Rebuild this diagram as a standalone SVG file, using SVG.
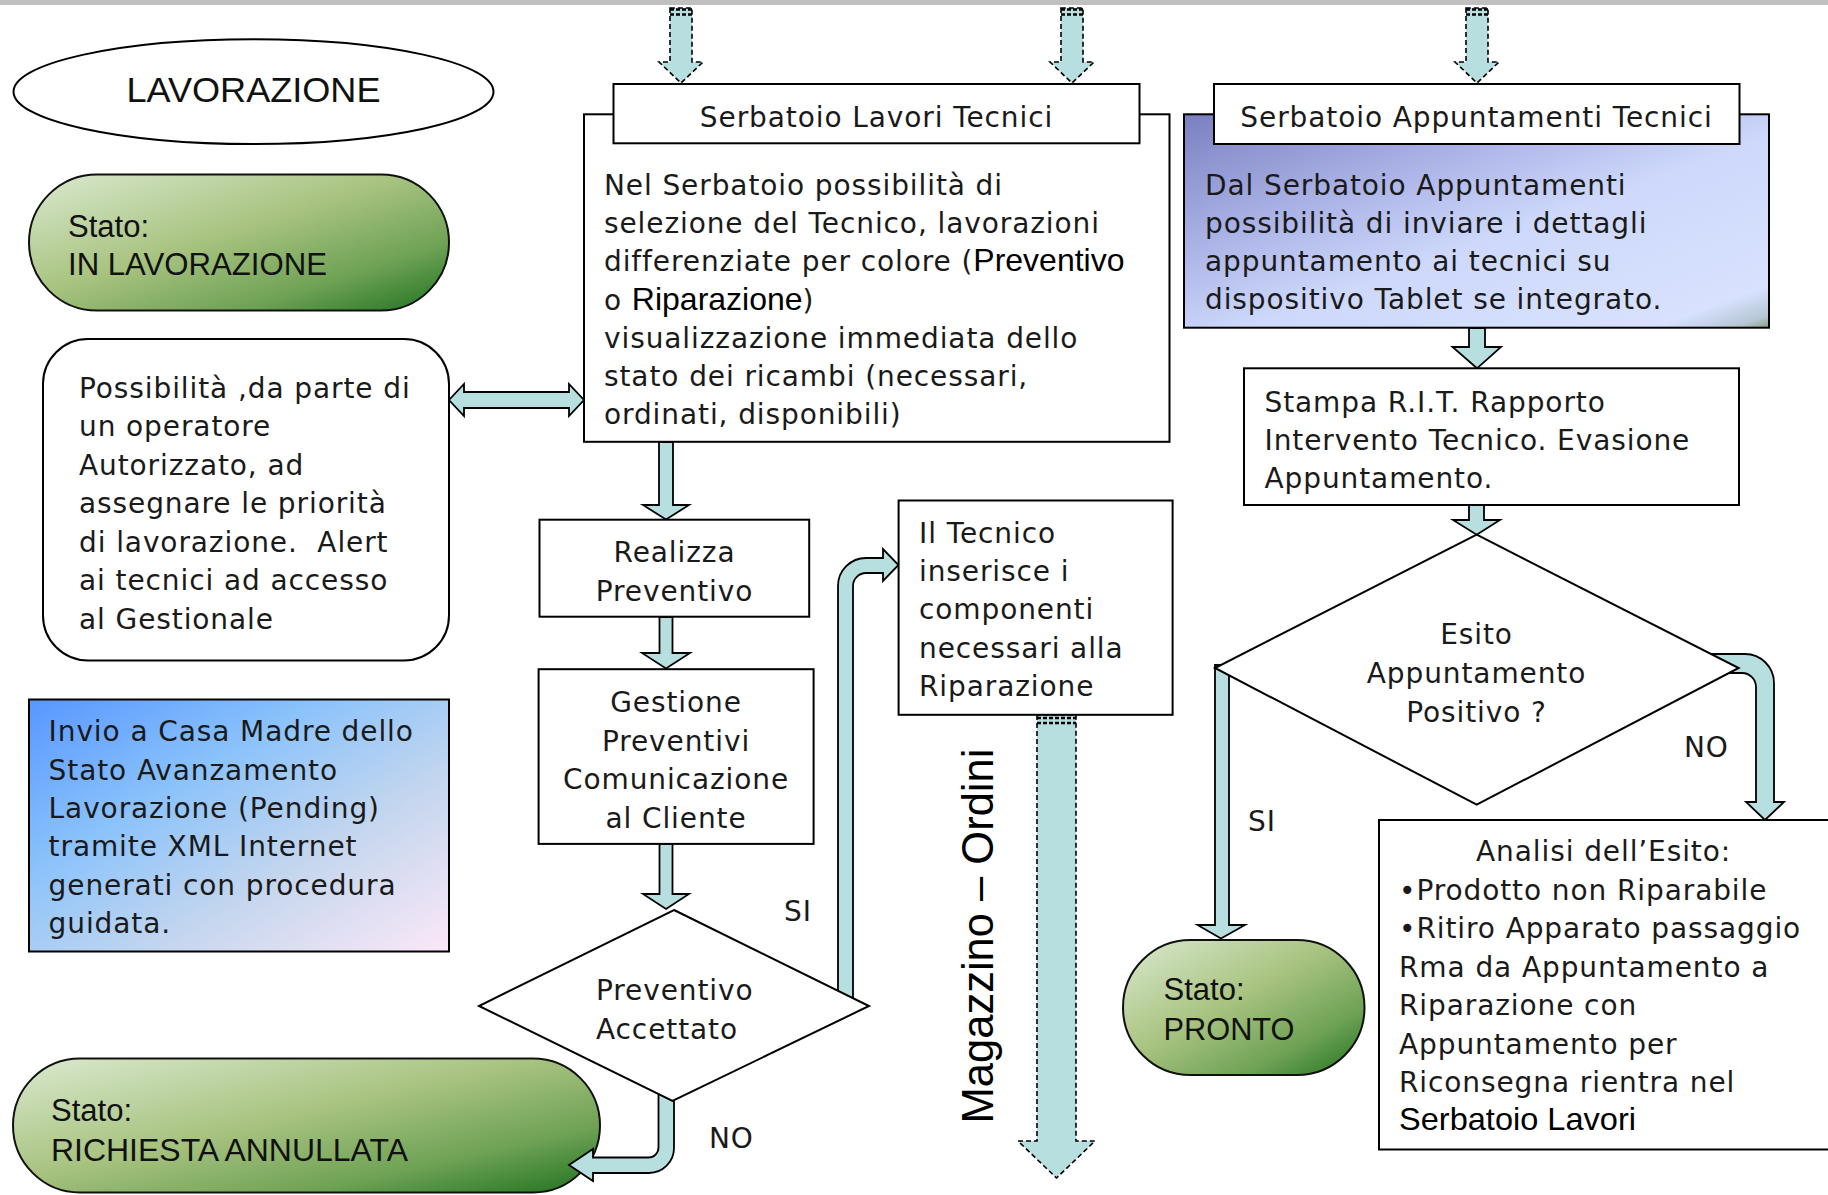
<svg xmlns="http://www.w3.org/2000/svg" width="1828" height="1195" viewBox="0 0 1828 1195">
<defs>
<style>
.g{font-family:"DejaVu Sans","Noto Sans CJK KR",sans-serif;font-size:28px;letter-spacing:0.9px;fill:#1a1a1a}
.a{font-family:"Liberation Sans",Arial,sans-serif;font-size:31px;fill:#111}
.ab{font-family:"Liberation Sans",Arial,sans-serif;font-size:32px;letter-spacing:0;fill:#000}
.box{fill:#fff;stroke:#000;stroke-width:2}
.conn{fill:#b7dfe0;stroke:#000;stroke-width:1.8;stroke-linejoin:miter}
.dash{fill:#b7dfe0;stroke:#000;stroke-width:1.6;stroke-dasharray:5 3}
.dtop{stroke:#000;stroke-width:2.5;stroke-dasharray:4 2;fill:none}
.pill{stroke:#111;stroke-width:2;fill:url(#green)}
.mid{text-anchor:middle}
</style>
<linearGradient id="green" x1="0" y1="0" x2="1" y2="1">
<stop offset="0" stop-color="#dbe9d0"/>
<stop offset="0.45" stop-color="#a8c380"/>
<stop offset="0.75" stop-color="#6fa255"/>
<stop offset="1" stop-color="#1f721f"/>
</linearGradient>
<linearGradient id="blue" x1="0" y1="0" x2="1" y2="1">
<stop offset="0" stop-color="#5797ff"/>
<stop offset="0.35" stop-color="#8cc3fb"/>
<stop offset="0.65" stop-color="#c4d6ee"/>
<stop offset="1" stop-color="#fbe8f8"/>
</linearGradient>
<linearGradient id="violet" x1="0" y1="0" x2="1" y2="1">
<stop offset="0" stop-color="#7a80c0"/>
<stop offset="0.3" stop-color="#a8b0e4"/>
<stop offset="0.55" stop-color="#cdd8fb"/>
<stop offset="0.9" stop-color="#d8e2fe"/>
<stop offset="0.97" stop-color="#b6c6d6"/>
<stop offset="1" stop-color="#86a07c"/>
</linearGradient>
</defs>
<rect x="0" y="0" width="1828" height="5" fill="#c0c0c0"/>

<g id="lavorazione">
<ellipse cx="253.5" cy="91.7" rx="240" ry="52.4" fill="#fff" stroke="#000" stroke-width="2"/>
<text class="a mid" x="253.5" y="102" style="font-size:35px" textLength="254" lengthAdjust="spacingAndGlyphs">LAVORAZIONE</text>
</g>

<g id="stato-in-lavorazione">
<rect class="pill" x="29" y="174.5" width="420" height="136" rx="68" ry="68"/>
<text class="a" x="68" y="237">Stato:</text>
<text class="a" x="68" y="275" textLength="259" lengthAdjust="spacingAndGlyphs">IN LAVORAZIONE</text>
</g>

<g id="stato-richiesta-annullata">
<rect class="pill" x="13" y="1058.5" width="587" height="134" rx="67" ry="67"/>
<text class="a" x="51" y="1121">Stato:</text>
<text class="a" x="51" y="1161" textLength="357" lengthAdjust="spacingAndGlyphs">RICHIESTA ANNULLATA</text>
</g>

<g id="stato-pronto">
<rect class="pill" x="1123" y="940" width="241.5" height="135" rx="67.5" ry="67.5"/>
<text class="a" x="1163.5" y="1000">Stato:</text>
<text class="a" x="1163.5" y="1040" textLength="131" lengthAdjust="spacingAndGlyphs">PRONTO</text>
</g>

<g id="connectors">
<path class="dash" d="M670,8 V62 H659 L681,83 L703,62 H692 V8 Z"/>
<line class="dtop" x1="670" y1="9.5" x2="692" y2="9.5"/><line class="dtop" x1="670" y1="14.5" x2="692" y2="14.5"/>
<path class="dash" d="M1061,8 V62 H1050 L1072,83 L1094,62 H1083 V8 Z"/>
<line class="dtop" x1="1061" y1="9.5" x2="1083" y2="9.5"/><line class="dtop" x1="1061" y1="14.5" x2="1083" y2="14.5"/>
<path class="dash" d="M1466,8 V62 H1455 L1477,83 L1499,62 H1488 V8 Z"/>
<line class="dtop" x1="1466" y1="9.5" x2="1488" y2="9.5"/><line class="dtop" x1="1466" y1="14.5" x2="1488" y2="14.5"/>
<path class="dash" d="M1037,715 V1141 H1018 L1056.5,1178 L1095,1141 H1076 V715 Z"/>
<line class="dtop" x1="1037" y1="718" x2="1076" y2="718"/><line class="dtop" x1="1037" y1="723" x2="1076" y2="723"/>
<path class="conn" d="M449,400 L464,384 V392 H569 V384 L584,400 L569,416 V408 H464 V416 Z"/>
<path class="conn" d="M659,442 V505 H643 L666,519.5 L689,505 H673 V442 Z"/>
<path class="conn" d="M659.5,617 V653 H642 L666,668.5 L690,653 H672.5 V617 Z"/>
<path class="conn" d="M659.5,844 V894 H643 L666,909 L689,894 H672.5 V844 Z"/>
<path class="conn" d="M1469,328 V347 H1452.5 L1477,368.3 L1501,347 H1485 V328 Z"/>
<path class="conn" d="M1469,505 V520 H1453 L1476.7,534.7 L1500,520 H1484 V505 Z"/>
<path class="conn" d="M1215,665 V925 H1197.5 L1221,938.5 L1245,925 H1229 V665 Z"/>
<path class="conn" d="M1700,654 H1745 A29,29 0 0 1 1774,683 V802 H1784 L1765,820 L1746,802 H1756 V687 A14,14 0 0 0 1742,673 H1700 Z"/>
<path class="conn" d="M838,1005 V586 A28,28 0 0 1 866,558 H883 V549 L898.5,565 L883,581 V573 H866 A13,13 0 0 0 853,586 V1005 Z"/>
<path class="conn" d="M658.5,1090 V1147.5 A10,10 0 0 1 648.5,1157.5 H593 V1149 L569,1165 L593,1181 V1173 H649 A25,25 0 0 0 674,1148 V1090 Z"/>
</g>

<g id="possibilita">
<rect class="box" x="43" y="339" width="406" height="321.5" rx="45" ry="45"/>
<text class="g" x="79" y="397.5" style="white-space:pre">Possibilità ,da parte di</text>
<text class="g" x="79" y="436">un operatore</text>
<text class="g" x="79" y="474.5">Autorizzato, ad</text>
<text class="g" x="79" y="513">assegnare le priorità</text>
<text class="g" x="79" y="551.5" style="white-space:pre">di lavorazione.  Alert</text>
<text class="g" x="79" y="590">ai tecnici ad accesso</text>
<text class="g" x="79" y="628.5">al Gestionale</text>
</g>

<g id="invio-casa-madre">
<rect x="29" y="699.5" width="420" height="252" fill="url(#blue)" stroke="#000" stroke-width="2"/>
<text class="g" x="48.6" y="741.4">Invio a Casa Madre dello</text>
<text class="g" x="48.6" y="779.7">Stato Avanzamento</text>
<text class="g" x="48.6" y="818">Lavorazione (Pending)</text>
<text class="g" x="48.6" y="856.3">tramite XML Internet</text>
<text class="g" x="48.6" y="894.6">generati con procedura</text>
<text class="g" x="48.6" y="933">guidata.</text>
</g>

<g id="serbatoio-lavori">
<rect class="box" x="584" y="114.3" width="585.5" height="327.5"/>
<rect class="box" x="613.5" y="84" width="526" height="59.3"/>
<text class="g mid" x="876.5" y="127">Serbatoio Lavori Tecnici</text>
<text class="g" x="604" y="195">Nel Serbatoio possibilità di</text>
<text class="g" x="604" y="233">selezione del Tecnico, lavorazioni</text>
<text class="g" x="604" y="271">differenziate per colore (<tspan class="ab">Preventivo</tspan></text>
<text class="g" x="604" y="309.5">o <tspan class="ab">Riparazione</tspan>)</text>
<text class="g" x="604" y="348">visualizzazione immediata dello</text>
<text class="g" x="604" y="386">stato dei ricambi (necessari,</text>
<text class="g" x="604" y="424">ordinati, disponibili)</text>
</g>

<g id="serbatoio-appuntamenti">
<rect x="1184" y="114.3" width="585" height="213.4" fill="url(#violet)" stroke="#000" stroke-width="2"/>
<rect class="box" x="1214" y="84" width="525.5" height="60"/>
<text class="g mid" x="1476.5" y="127">Serbatoio Appuntamenti Tecnici</text>
<text class="g" x="1205" y="195">Dal Serbatoio Appuntamenti</text>
<text class="g" x="1205" y="233">possibilità di inviare i dettagli</text>
<text class="g" x="1205" y="271">appuntamento ai tecnici su</text>
<text class="g" x="1205" y="309">dispositivo Tablet se integrato.</text>
</g>

<g id="stampa-rit">
<rect class="box" x="1244" y="368.3" width="495" height="136.7"/>
<text class="g" x="1264.5" y="411.7">Stampa R.I.T. Rapporto</text>
<text class="g" x="1264.5" y="449.7">Intervento Tecnico. Evasione</text>
<text class="g" x="1264.5" y="487.7">Appuntamento.</text>
</g>

<g id="realizza-preventivo">
<rect class="box" x="539.5" y="519.7" width="269.7" height="97"/>
<text class="g mid" x="674.5" y="562">Realizza</text>
<text class="g mid" x="674.5" y="601">Preventivo</text>
</g>

<g id="gestione-preventivi">
<rect class="box" x="538.6" y="669.2" width="275" height="174.7"/>
<text class="g mid" x="676" y="711.5">Gestione</text>
<text class="g mid" x="676" y="750.5">Preventivi</text>
<text class="g mid" x="676" y="789">Comunicazione</text>
<text class="g mid" x="676" y="827.5">al Cliente</text>
</g>

<g id="preventivo-accettato">
<polygon points="674,910 869,1006 672.5,1101 479,1006" fill="#fff" stroke="#000" stroke-width="2"/>
<text class="g" x="596" y="1000">Preventivo</text>
<text class="g" x="596" y="1038.5">Accettato</text>
</g>

<g id="tecnico-componenti">
<rect class="box" x="898.6" y="500.5" width="274" height="214.3"/>
<text class="g" x="919" y="543">Il Tecnico</text>
<text class="g" x="919" y="581">inserisce i</text>
<text class="g" x="919" y="619">componenti</text>
<text class="g" x="919" y="657.5">necessari alla</text>
<text class="g" x="919" y="695.5">Riparazione</text>
</g>

<g id="esito-appuntamento">
<polygon points="1476.7,534.7 1738.7,668 1476.7,804.7 1215,668" fill="#fff" stroke="#000" stroke-width="2"/>
<text class="g mid" x="1476.5" y="644">Esito</text>
<text class="g mid" x="1476.5" y="683">Appuntamento</text>
<text class="g mid" x="1476.5" y="721.7">Positivo ?</text>
</g>

<g id="analisi-esito">
<rect class="box" x="1379" y="820" width="460" height="329.5"/>
<text class="g mid" x="1603.6" y="861">Analisi dell’Esito:</text>
<text class="g" x="1399" y="899.5">•Prodotto non Riparabile</text>
<text class="g" x="1399" y="938">•Ritiro Apparato passaggio</text>
<text class="g" x="1399" y="976.5">Rma da Appuntamento a</text>
<text class="g" x="1399" y="1015">Riparazione con</text>
<text class="g" x="1399" y="1053.5">Appuntamento per</text>
<text class="g" x="1399" y="1092">Riconsegna rientra nel</text>
<text class="ab" x="1399" y="1130" textLength="237" lengthAdjust="spacingAndGlyphs">Serbatoio Lavori</text>
</g>

<g id="labels">
<text class="g" x="784" y="921">SI</text>
<text class="g" x="709" y="1148">NO</text>
<text class="g" x="1248" y="831">SI</text>
<text class="g" x="1684" y="757">NO</text>
<text class="ab mid" transform="translate(993,936) rotate(-90)" x="0" y="0" style="font-size:43.5px">Magazzino – Ordini</text>
</g>
</svg>
